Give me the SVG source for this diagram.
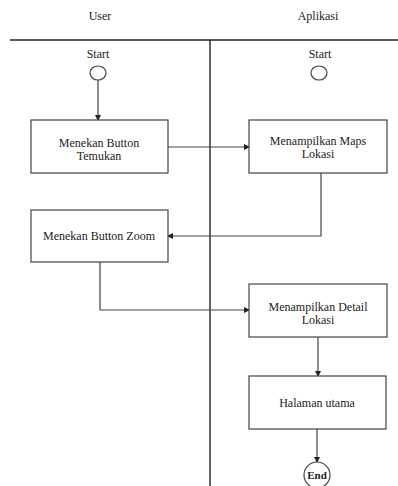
<svg xmlns="http://www.w3.org/2000/svg" width="398" height="486" viewBox="0 0 398 486">
<style>
.t{font-family:"Liberation Serif","Times New Roman",serif;font-size:12px;fill:#222;text-anchor:middle}
.n{fill:#fff;stroke:#444;stroke-width:1.2}
.c{fill:none;stroke:#444;stroke-width:1.2}
.lane{stroke:#222;stroke-width:1.4;fill:none}
</style>
<defs>
<marker id="ah" markerWidth="6" markerHeight="6" refX="5" refY="3" orient="auto" markerUnits="userSpaceOnUse">
<path d="M0,0 L6,3 L0,6 Z" fill="#222"/>
</marker>
</defs>
<rect width="398" height="486" fill="#fff"/>
<g id="lanes">
<line class="lane" x1="10" y1="40" x2="398" y2="40"/>
<line class="lane" x1="210" y1="40" x2="210" y2="486"/>
<text class="t" x="100" y="20">User</text>
<text class="t" x="318" y="20">Aplikasi</text>
</g>
<g id="connectors">
<line class="c" x1="98" y1="80" x2="98" y2="120" marker-end="url(#ah)"/>
<line class="c" x1="168" y1="147" x2="249" y2="147" marker-end="url(#ah)"/>
<polyline class="c" points="321,173 321,236 168,236" marker-end="url(#ah)"/>
<polyline class="c" points="100,262 100,310 249,310" marker-end="url(#ah)"/>
<line class="c" x1="318" y1="337" x2="318" y2="376" marker-end="url(#ah)"/>
<line class="c" x1="317" y1="429" x2="317" y2="462" marker-end="url(#ah)"/>
</g>
<g id="start-user">
<text class="t" x="98" y="58">Start</text>
<ellipse class="n" cx="98" cy="73" rx="8" ry="7"/>
</g>
<g id="start-app">
<text class="t" x="320" y="58">Start</text>
<ellipse class="n" cx="319" cy="73" rx="8" ry="7"/>
</g>
<g id="menekan-temukan">
<rect class="n" x="31" y="120" width="137" height="53"/>
<text class="t" x="99" y="147">Menekan Button</text>
<text class="t" x="99" y="160">Temukan</text>
</g>
<g id="maps-lokasi">
<rect class="n" x="249" y="120" width="138" height="53"/>
<text class="t" x="318" y="145">Menampilkan Maps</text>
<text class="t" x="318" y="158">Lokasi</text>
</g>
<g id="menekan-zoom">
<rect class="n" x="31" y="210" width="137" height="52"/>
<text class="t" x="99" y="240">Menekan Button Zoom</text>
</g>
<g id="detail-lokasi">
<rect class="n" x="249" y="284" width="138" height="53"/>
<text class="t" x="318" y="311">Menampilkan Detail</text>
<text class="t" x="318" y="324">Lokasi</text>
</g>
<g id="halaman-utama">
<rect class="n" x="249" y="376" width="137" height="53"/>
<text class="t" x="317" y="407">Halaman utama</text>
</g>
<g id="end">
<circle class="n" cx="317" cy="475" r="13"/>
<text class="t" x="317" y="479" style="font-weight:600;font-size:11px">End</text>
</g>
</svg>
